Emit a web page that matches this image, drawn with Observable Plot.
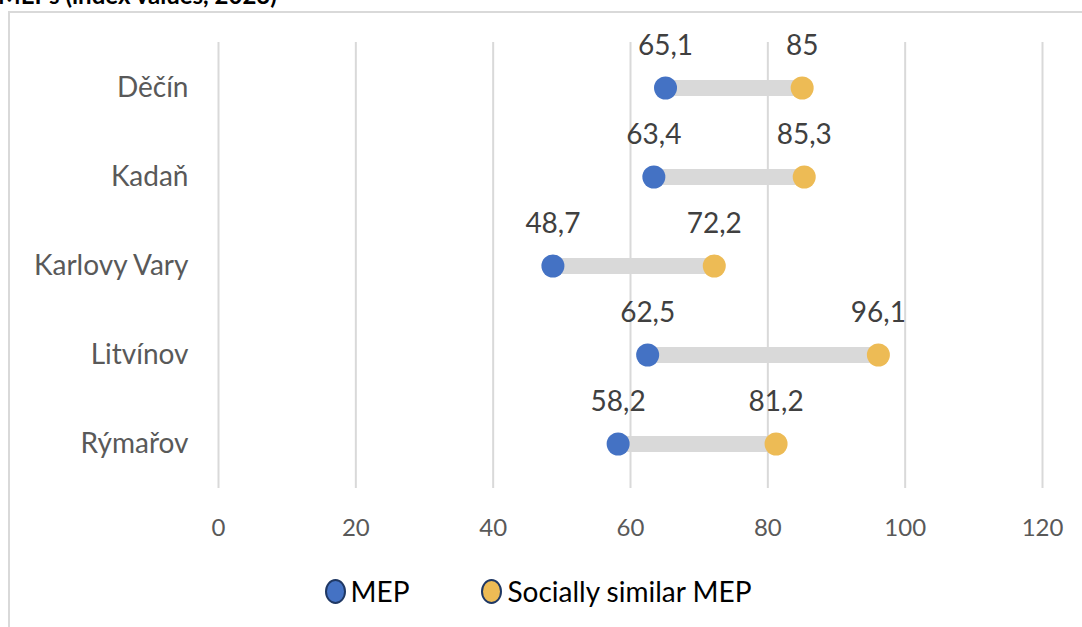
<!DOCTYPE html>
<html>
<head>
<meta charset="utf-8">
<script src="https://cdn.jsdelivr.net/npm/d3@7"></script>
<script src="https://cdn.jsdelivr.net/npm/@observablehq/plot@0.6"></script>
<style>
  html, body { margin: 0; padding: 0; background: #fff; overflow: hidden; }
  #wrap { position: relative; width: 1082px; height: 627px; font-family: Lato, "Open Sans", sans-serif; overflow: hidden; }
  #title { position: absolute; left: -2px; top: -20px; font-size: 24px; font-weight: bold; color: #000; white-space: nowrap; }
  #frame { position: absolute; left: 8px; top: 11px; width: 1100px; height: 640px; border-left: 2px solid #d9d9d9; border-top: 2px solid #d9d9d9; box-sizing: border-box; background: #fff; }
  #chart { position: absolute; left: 0; top: 0; }
  #legend { position: absolute; top: 574px; left: 0; width: 1082px; display: flex; justify-content: center; gap: 72px; font-size: 28px; color: #000; padding-right: 6px; box-sizing: border-box; }
  .item { display: flex; align-items: center; gap: 5px; }
  .sw { width: 21px; height: 25px; border-radius: 50%; border: 2px solid #1f3864; box-sizing: border-box; }
</style>
</head>
<body>
<div id="wrap">
  <div id="frame"></div>
  <div id="title">MEPs (index values, 2023)</div>
  <div id="chart"></div>
  <div id="legend"></div>
</div>
<script>
const cities = ["Děčín", "Kadaň", "Karlovy Vary", "Litvínov", "Rýmařov"];
const mep = [65.1, 63.4, 48.7, 62.5, 58.2];
const similar = [85, 85.3, 72.2, 96.1, 81.2];
const xTicks = [0, 20, 40, 60, 80, 100, 120];
const seriesNames = ["MEP", "Socially similar MEP"];
const seriesColors = ["#4472C4", "#EDBB55"];

const rows = cities.map((c, i) => ({city: c, mep: mep[i], similar: similar[i]}));
const points = [];
rows.forEach(r => {
  points.push({city: r.city, value: r.mep, series: seriesNames[0]});
  points.push({city: r.city, value: r.similar, series: seriesNames[1]});
});
const fmt = v => String(v).replace(".", ",");

const chart = Plot.plot({
  width: 1082,
  height: 560,
  marginLeft: 218,
  marginRight: 40,
  marginTop: 42,
  marginBottom: 72,
  style: {fontFamily: "Lato, 'Open Sans', sans-serif", background: "transparent"},
  x: {domain: [0, 120], ticks: xTicks, label: null},
  y: {type: "band", domain: cities, padding: 0, label: null},
  color: {domain: seriesNames, range: seriesColors},
  marks: [
    Plot.gridX(xTicks, {stroke: "#d9d9d9", strokeOpacity: 1, strokeWidth: 2}),
    Plot.axisX({ticks: xTicks, tickSize: 0, tickPadding: 30, fontSize: 24, fill: "#595959", label: null}),
    Plot.axisY({tickSize: 0, tickPadding: 30, fontSize: 28, fill: "#595959", label: null}),
    Plot.link(rows, {x1: "mep", x2: "similar", y1: "city", y2: "city", stroke: "#d9d9d9", strokeWidth: 16}),
    Plot.dot(points, {x: "value", y: "city", fill: "series", r: 11.5, stroke: null}),
    Plot.text(points, {x: "value", y: "city", text: d => fmt(d.value), dy: -42, fontSize: 28, fill: "#404040"})
  ]
});
document.getElementById("chart").appendChild(chart);

const legend = document.getElementById("legend");
seriesNames.forEach((n, i) => {
  const item = document.createElement("div");
  item.className = "item";
  const sw = document.createElement("div");
  sw.className = "sw";
  sw.style.background = seriesColors[i];
  const t = document.createElement("span");
  t.textContent = n;
  item.appendChild(sw);
  item.appendChild(t);
  legend.appendChild(item);
});
</script>
</body>
</html>
